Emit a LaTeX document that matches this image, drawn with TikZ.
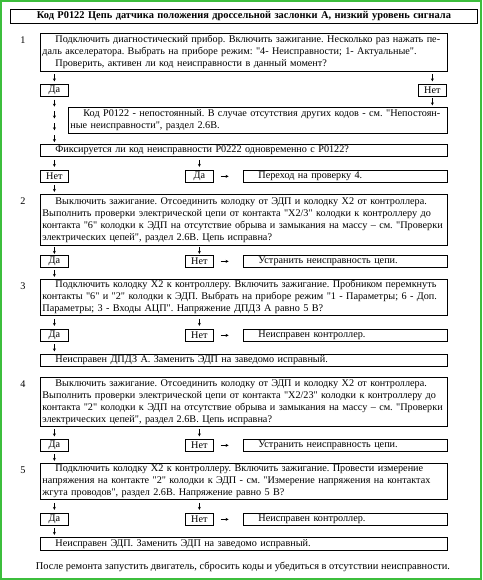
\documentclass[tikz,border=0pt]{standalone}
\usepackage{fontspec}
\setmainfont{Liberation Serif}[Ligatures=TeXOff]
\frenchspacing
\usetikzlibrary{arrows.meta, calc, positioning}
\definecolor{framegreen}{RGB}{60,190,60}
\newcommand\fs{\fontsize{10.2}{12}\selectfont}
\newcommand\fsl{\fontsize{10.4}{12}\selectfont}
\newcommand\jline[1]{\hbox to \hsize{#1}}
\newcommand\eline[1]{\hbox{#1}}
\newcommand\ind{\kern13pt}
\newcommand\lines[1]{\vbox{#1}}
\newcommand\dnarrow[3][.5]{\draw[dn] ($(#2)!#1!(#3)+(0,-3.5)$) -- ++(0,7);}
\newcommand\rarrow[2]{\draw[dn] ($(#1.east)!.37!(#2.west)+(-4,0)$) -- ++(8,0);}
\tikzset{
  frame/.style={draw, line width=0.8pt, anchor=north west, inner xsep=2pt, inner ysep=1pt, font=\fs},
  stepbox/.style={frame, text width=403pt},
  resbox/.style={frame, text width=200pt, minimum height=12pt},
  ansbox/.style={frame, inner sep=0pt, minimum width=28pt, minimum height=12pt},
  num/.style={font=\fs, inner sep=0pt, anchor=north},
  dn/.style={-{Stealth[length=3pt,width=3pt]}, line width=0.5pt},
}

\begin{document}
\begin{tikzpicture}[x=1pt, y=-1pt]

    \fill[white] (0,0) rectangle (482,580);
    \draw[framegreen, line width=2pt] (1,1) rectangle (481,579);

    \node[frame, text width=463pt, align=center, font=\fsl\bfseries, minimum height=14pt] (title) at (10,9)
        {Код P0122 Цепь датчика положения дроссельной заслонки А, низкий уровень сигнала};

    % Step 1
    \node[stepbox, minimum height=38pt] (b1) at (40,33) {\lines{
        \jline{\ind Подключить диагностический прибор. Включить зажигание. Несколько раз нажать пе-}
        \eline{даль акселератора. Выбрать на приборе режим: "4- Неисправности; 1- Актуальные".}
        \eline{\ind Проверить, активен ли код неисправности в данный момент?}}};
    \node[ansbox] (y1) at (40,84) {Да};
    \node[ansbox] (n1) at (418,84) {Нет};
    \node[frame, text width=375pt, minimum height=26pt] (b1b) at (68,107) {\lines{
        \jline{\ind Код P0122 - непостоянный. В случае отсутствия других кодов - см. "Непостоян-}
        \eline{ные неисправности", раздел 2.6В.}}};
    \node[stepbox, minimum height=12pt] (fix) at (40,144)
        {\lines{\eline{\ind Фиксируется ли код неисправности P0222 одновременно с P0122?}}};
    \node[ansbox] (nf) at (40,170) {Нет};
    \node[ansbox] (yf) at (185,170) {Да};
    \node[resbox] (go4) at (243,170) {\lines{\eline{\ind Переход на проверку 4.}}};

    % Step 2
    \node[stepbox, minimum height=51pt] (b2) at (40,194) {\lines{
        \jline{\ind Выключить зажигание. Отсоединить колодку от ЭДП и колодку X2 от контроллера.}
        \jline{Выполнить проверки электрической цепи от контакта "X2/3" колодки к контроллеру до}
        \jline{контакта "6" колодки к ЭДП на отсутствие обрыва и замыкания на массу – см. "Проверки}
        \eline{электрических цепей", раздел 2.6В. Цепь исправна?}}};
    \node[ansbox] (y2) at (40,255) {Да};
    \node[ansbox] (n2) at (185,255) {Нет};
    \node[resbox] (r2) at (243,255) {\lines{\eline{\ind Устранить неисправность цепи.}}};

    % Step 3
    \node[stepbox, minimum height=36pt] (b3) at (40,279) {\lines{
        \jline{\ind Подключить колодку X2 к контроллеру. Включить зажигание. Пробником перемкнуть}
        \jline{контакты "6" и "2" колодки к ЭДП. Выбрать на приборе режим "1 - Параметры; 6 - Доп.}
        \eline{Параметры; 3 - Входы АЦП". Напряжение ДПДЗ А равно 5 В?}}};
    \node[ansbox] (y3) at (40,329) {Да};
    \node[ansbox] (n3) at (185,329) {Нет};
    \node[resbox] (r3) at (243,329) {\lines{\eline{\ind Неисправен контроллер.}}};
    \node[stepbox, minimum height=12pt] (b3b) at (40,354)
        {\lines{\eline{\ind Неисправен ДПДЗ А. Заменить ЭДП на заведомо исправный.}}};

    % Step 4
    \node[stepbox, minimum height=49pt] (b4) at (40,377) {\lines{
        \jline{\ind Выключить зажигание. Отсоединить колодку от ЭДП и колодку X2 от контроллера.}
        \jline{Выполнить проверки электрической цепи от контакта "X2/23" колодки к контроллеру до}
        \jline{контакта "2" колодки к ЭДП на отсутствие обрыва и замыкания на массу – см. "Проверки}
        \eline{электрических цепей", раздел 2.6В. Цепь исправна?}}};
    \node[ansbox] (y4) at (40,439) {Да};
    \node[ansbox] (n4) at (185,439) {Нет};
    \node[resbox] (r4) at (243,439) {\lines{\eline{\ind Устранить неисправность цепи.}}};

    % Step 5
    \node[stepbox, minimum height=36pt] (b5) at (40,463) {\lines{
        \jline{\ind Подключить колодку X2 к контроллеру. Включить зажигание. Провести измерение}
        \jline{напряжения на контакте "2" колодки к ЭДП - см. "Измерение напряжения на контактах}
        \eline{жгута проводов", раздел 2.6В. Напряжение равно 5 В?}}};
    \node[ansbox] (y5) at (40,513) {Да};
    \node[ansbox] (n5) at (185,513) {Нет};
    \node[resbox] (r5) at (243,513) {\lines{\eline{\ind Неисправен контроллер.}}};
    \node[stepbox, minimum height=13pt] (b5b) at (40,537)
        {\lines{\eline{\ind Неисправен ЭДП. Заменить ЭДП на заведомо исправный.}}};

    \node[font=\fsl] (note) at (243,567)
        {После ремонта запустить двигатель, сбросить коды и убедиться в отсутствии неисправности.};

    % step numbers
    \foreach \b/\t in {b1/1, b2/2, b3/3, b4/4, b5/5}
        \node[num] (s\t) at ([xshift=-17pt, yshift=-4pt]\b.north west) {\t};

    % arrows
    \dnarrow{b1.south -| y1}{y1.north}
    \dnarrow{b1.south -| n1}{n1.north}
    \dnarrow{n1.south}{b1b.north -| n1}
    \foreach \p in {.135,.385,.635,.885}{
        \dnarrow[\p]{y1.south}{fix.north -| y1}
    }
    \dnarrow{fix.south -| nf}{nf.north}
    \dnarrow{fix.south -| yf}{yf.north}
    \rarrow{yf}{go4}
    \dnarrow{nf.south}{b2.north -| nf}

    \dnarrow{b2.south -| y2}{y2.north}
    \dnarrow{b2.south -| n2}{n2.north}
    \rarrow{n2}{r2}
    \dnarrow{y2.south}{b3.north -| y2}

    \dnarrow{b3.south -| y3}{y3.north}
    \dnarrow{b3.south -| n3}{n3.north}
    \rarrow{n3}{r3}
    \dnarrow{y3.south}{b3b.north -| y3}

    \dnarrow{b4.south -| y4}{y4.north}
    \dnarrow{b4.south -| n4}{n4.north}
    \rarrow{n4}{r4}
    \dnarrow{y4.south}{b5.north -| y4}

    \dnarrow{b5.south -| y5}{y5.north}
    \dnarrow{b5.south -| n5}{n5.north}
    \rarrow{n5}{r5}
    \dnarrow{y5.south}{b5b.north -| y5}

\end{tikzpicture}
\end{document}
